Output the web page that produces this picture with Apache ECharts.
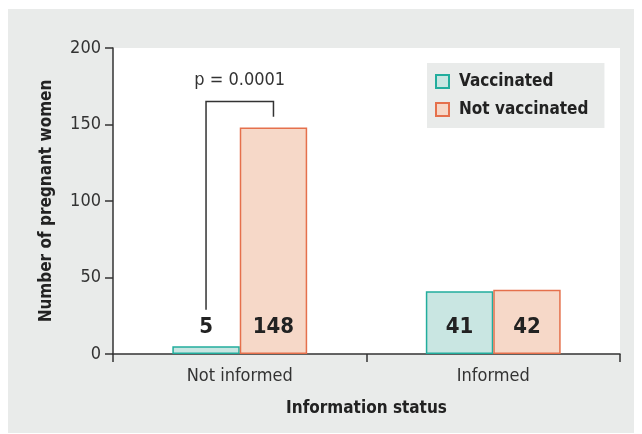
<!DOCTYPE html>
<html>
<head>
<meta charset="utf-8">
<script src="https://cdn.jsdelivr.net/npm/echarts@6/dist/echarts.min.js"></script>
<style>
  html, body { margin: 0; padding: 0; background: #fff; }
  #main { width: 642px; height: 434px; }
</style>
</head>
<body>
<div id="main"></div>
<script>
var categories = ['Not informed', 'Informed'];
var vaccinated = [5, 41];
var notVaccinated = [148, 42];
var yTicks = { min: 0, max: 200, interval: 50 };
// significance bracket between the two bars of "Not informed"
var pText = 'p = 0.0001';
var bracketTop = 165;
var bracketLeftFoot = 29;
var bracketRightFoot = 155;
var pTextValue = 179;

var FONT = '"Liberation Sans Narrow", "DejaVu Sans Condensed", "Open Sans", sans-serif';

var chart = echarts.init(document.getElementById('main'));

var option = {
    backgroundColor: '#fff',
    textStyle: { fontFamily: FONT },
    graphic: [{
        type: 'rect',
        z: -10,
        shape: { x: 8, y: 9, width: 626, height: 424 },
        style: { fill: '#e9ebea' },
        silent: true
    }],
    grid: {
        left: 113, right: 22, top: 48, bottom: 80,
        show: true, backgroundColor: '#fff', borderWidth: 0
    },
    legend: {
        orient: 'vertical',
        left: 427, top: 63,
        padding: [10, 16, 10, 8],
        itemGap: 11,
        itemWidth: 13, itemHeight: 13,
        icon: 'rect',
        backgroundColor: '#e9ebea',
        textStyle: {
            fontFamily: FONT, fontWeight: 'bold', fontSize: 17, color: '#222',
            padding: [0, 0, 0, 5]
        },
        data: ['Vaccinated', 'Not vaccinated']
    },
    xAxis: {
        type: 'category',
        data: categories,
        name: 'Information status',
        nameLocation: 'middle',
        nameGap: 46,
        nameTextStyle: { fontFamily: FONT, fontWeight: 'bold', fontSize: 17, color: '#222' },
        axisLine: { lineStyle: { color: '#333', width: 1.5 } },
        axisTick: { show: true, length: 8, inside: false, lineStyle: { color: '#333', width: 1.5 } },
        axisLabel: { fontSize: 18, color: '#333', margin: 13, fontFamily: FONT }
    },
    yAxis: {
        type: 'value',
        min: yTicks.min, max: yTicks.max, interval: yTicks.interval,
        name: 'Number of pregnant women',
        nameLocation: 'middle',
        nameGap: 58,
        nameTextStyle: { fontFamily: FONT, fontWeight: 'bold', fontSize: 17, color: '#222' },
        axisLine: { show: true, lineStyle: { color: '#333', width: 1.5 } },
        axisTick: { show: true, length: 8, lineStyle: { color: '#333', width: 1.5 } },
        axisLabel: { fontSize: 18, color: '#333', margin: 12, fontFamily: FONT },
        splitLine: { show: false }
    },
    series: [{
        name: 'Vaccinated',
        type: 'bar',
        data: vaccinated,
        barWidth: '26.6%',
        barGap: '0%',
        itemStyle: { color: '#c9e6e2', borderColor: '#22ad9d', borderWidth: 1.5 },
        label: {
            show: true, position: 'insideBottom', distance: 16,
            fontFamily: FONT, fontWeight: 'bold', fontSize: 22, color: '#222'
        }
    }, {
        name: 'Not vaccinated',
        type: 'bar',
        data: notVaccinated,
        barWidth: '26.6%',
        barGap: '0%',
        itemStyle: { color: '#f6d8c8', borderColor: '#e5704c', borderWidth: 1.5 },
        label: {
            show: true, position: 'insideBottom', distance: 16,
            fontFamily: FONT, fontWeight: 'bold', fontSize: 22, color: '#222'
        }
    }, {
        type: 'custom',
        silent: true,
        z: 5,
        data: [[0, bracketTop, bracketLeftFoot, bracketRightFoot, pTextValue]],
        renderItem: function (params, api) {
            var band = api.size([1, 0])[0];
            var off = band * 0.133;
            var c = api.coord([api.value(0), api.value(1)]);
            var yLeft = api.coord([api.value(0), api.value(2)])[1];
            var yRight = api.coord([api.value(0), api.value(3)])[1];
            var yText = api.coord([api.value(0), api.value(4)])[1];
            var xl = c[0] - off, xr = c[0] + off;
            return {
                type: 'group',
                children: [{
                    type: 'polyline',
                    shape: { points: [[xl, yLeft], [xl, c[1]], [xr, c[1]], [xr, yRight]] },
                    style: { stroke: '#333', lineWidth: 1.5, fill: null }
                }, {
                    type: 'text',
                    x: c[0], y: yText,
                    style: {
                        text: pText, align: 'center', verticalAlign: 'middle',
                        font: '18px ' + FONT, fill: '#333'
                    }
                }]
            };
        }
    }]
};

chart.setOption(option);
</script>
</body>
</html>
